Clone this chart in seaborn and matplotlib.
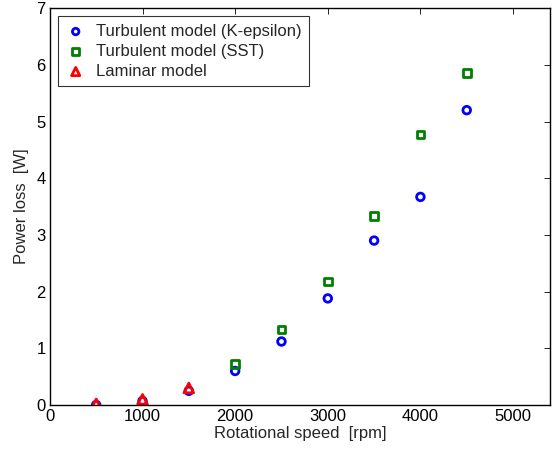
import numpy as np
import pandas as pd
import matplotlib
matplotlib.use('Agg')
import matplotlib.pyplot as plt
import seaborn as sns

# data
speed_ke = [500, 1000, 1500, 2000, 2500, 3000, 3500, 4000, 4500]
loss_ke = [0.0, 0.07, 0.25, 0.60, 1.12, 1.88, 2.90, 3.67, 5.20]
speed_sst = [2000, 2500, 3000, 3500, 4000, 4500]
loss_sst = [0.72, 1.33, 2.18, 3.33, 4.77, 5.86]
speed_lam = [500, 1000, 1500]
loss_lam = [0.02, 0.10, 0.30]

sns.set_style('white')
plt.rcParams['font.family'] = ['Liberation Sans', 'DejaVu Sans']

fig = plt.figure(figsize=(5.54, 4.5), dpi=100)
ax = fig.add_axes([0.090, 0.100, 0.903, 0.882])

df_ke = pd.DataFrame({'speed': speed_ke, 'loss': loss_ke})
df_sst = pd.DataFrame({'speed': speed_sst, 'loss': loss_sst})
df_lam = pd.DataFrame({'speed': speed_lam, 'loss': loss_lam})

sns.scatterplot(data=df_ke, x='speed', y='loss', ax=ax, marker='o', s=30,
                facecolor='none', edgecolor='#0000ff', linewidth=2,
                label='Turbulent model (K-epsilon)')
sns.scatterplot(data=df_sst, x='speed', y='loss', ax=ax, marker='s', s=30,
                facecolor='none', edgecolor='#008000', linewidth=2,
                label='Turbulent model (SST)')
sns.scatterplot(data=df_lam, x='speed', y='loss', ax=ax, marker='^', s=48,
                facecolor='none', edgecolor='#ff0000', linewidth=2,
                label='Laminar model')

ax.set_xlim(0, 5400)
ax.set_ylim(0, 7)
ax.set_xticks([0, 1000, 2000, 3000, 4000, 5000])
ax.set_yticks(range(0, 8))
ax.tick_params(direction='in', length=4, width=0.6, top=True, right=True,
               labelsize=12, pad=3, colors='black')
for sp in ax.spines.values():
    sp.set_color('black')
    sp.set_linewidth(1.0)

ax.set_xlabel('Rotational speed  [rpm]', fontsize=12, labelpad=1)
ax.set_ylabel('Power loss  [W]', fontsize=12, labelpad=5)

leg = ax.legend(loc='upper left', fontsize=12, frameon=True, fancybox=False,
                edgecolor='black', borderaxespad=0.5, handletextpad=0.6,
                labelspacing=0.3, borderpad=0.45, handlelength=1.2,
                markerscale=0.85)
leg.get_frame().set_linewidth(0.8)

fig.savefig('out.png', dpi=100)
